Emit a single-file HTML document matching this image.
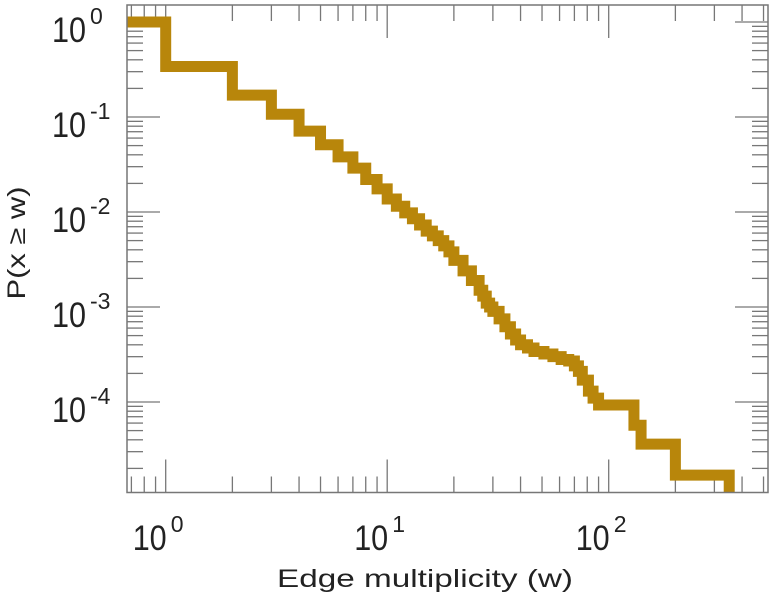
<!DOCTYPE html>
<html><head><meta charset="utf-8"><style>
html,body{margin:0;padding:0;background:#fff}
svg{display:block}
text{font-family:"Liberation Sans",sans-serif;fill:#222}
</style></head><body>
<svg id="chart" width="771" height="600" viewBox="0 0 771 600" xmlns="http://www.w3.org/2000/svg">
<g id="ticks"></g>
<path id="series" fill="none" stroke="#b8860b" stroke-width="11" stroke-linejoin="miter" stroke-linecap="butt"/>
<rect x="127" y="5" width="641" height="487.5" fill="none" stroke="#777" stroke-width="1.5"/>
<g id="labels"></g>
<text x="425" y="587" font-size="25" text-anchor="middle" textLength="296" lengthAdjust="spacingAndGlyphs">Edge multiplicity (w)</text>
<text transform="translate(25,243) rotate(-90)" font-size="25" text-anchor="middle" textLength="113" lengthAdjust="spacingAndGlyphs">P(x ≥ w)</text>
</svg>
<script>
const ws = [1,2,3,4,5,6,7,8,9,10,11,12,13,14,15,16,17,18,19,20,22,24,26,27,28,29,30,32,34,36,38,40,43,46,51,56,61,66,70,73,76,81,85,90,130,140,200,350];
const ps = [0.34,0.17,0.107,0.071,0.051,0.038,0.029,0.022,0.0175,0.0137,0.0115,0.0098,0.0085,0.0073,0.0063,0.0056,0.005,0.0044,0.0038,0.0031,0.0024,0.0019,0.0015,0.0013,0.0011,0.001,0.0009,0.00075,0.00062,0.00052,0.00045,0.0004,0.00037,0.00034,0.00032,0.0003,0.00028,0.00027,0.00024,0.00021,0.00017,0.00013,0.00011,0.000093,0.000057,0.000036,0.000017,0];
const xDecades = [0,1,2];
const yDecades = [0,-1,-2,-3,-4];
const xTickLabels = ["0","1","2"];
const yTickLabels = ["0","-1","-2","-3","-4"];

const L=127,R=768,T=5,B=492.5;
const xs = w => 165.7 + 221.5*Math.log10(w);
const ys = p => p<=0 ? B : 22 - 95*Math.log10(p);
const NS="http://www.w3.org/2000/svg";

let d = "M"+L+","+ys(1)+" H"+xs(ws[0]);
for(let i=0;i<ws.length;i++){
  d += " V"+ys(ps[i]);
  if(i+1<ws.length) d += " H"+xs(ws[i+1]);
}
document.getElementById('series').setAttribute('d',d);

const tg=document.getElementById('ticks');
function line(x1,y1,x2,y2,name){
  const l=document.createElementNS(NS,'line');
  l.setAttribute('x1',x1);l.setAttribute('y1',y1);l.setAttribute('x2',x2);l.setAttribute('y2',y2);
  l.setAttribute('stroke','#777');l.setAttribute('stroke-width','1.3');
  
  
  tg.appendChild(l);
}
for(let e=-1;e<=2;e++){
  for(let m=1;m<10;m++){
    const w=m*Math.pow(10,e); const x=xs(w);
    if(x<L||x>R) continue;
    const len = m===1?33:16;
    line(x,B,x,B-len,'x-tick');
    line(x,T,x,T+len,'x-tick-top');
  }
}
for(let e=-5;e<=0;e++){
  for(let m=1;m<10;m++){
    const p=m*Math.pow(10,e); const y=ys(p);
    if(y<T||y>B) continue;
    const len = m===1?33:16;
    line(L,y,L+len,y,'y-tick');
    line(R,y,R-len,y,'y-tick-right');
  }
}
const lg=document.getElementById('labels');
function lbl(x,y,base,sup,name){
  const t=document.createElementNS(NS,'text');
  t.setAttribute('x',x);t.setAttribute('y',y);t.setAttribute('font-size','35');
  t.setAttribute('textLength','34');t.setAttribute('lengthAdjust','spacingAndGlyphs');
  t.textContent=base;
  
  
  lg.appendChild(t);
  const s=document.createElementNS(NS,'text');
  s.setAttribute('x',x+38);s.setAttribute('y',y-18);s.setAttribute('font-size','23');
  s.textContent=sup;
  
  
  lg.appendChild(s);
}
xDecades.forEach((e,i)=>{ lbl(xs(Math.pow(10,e))-33,550,"10",xTickLabels[i],'x-tick-label'); });
yDecades.forEach((e,i)=>{ lbl(52,ys(Math.pow(10,e))+20,"10",yTickLabels[i],'y-tick-label'); });
</script>
</body></html>
